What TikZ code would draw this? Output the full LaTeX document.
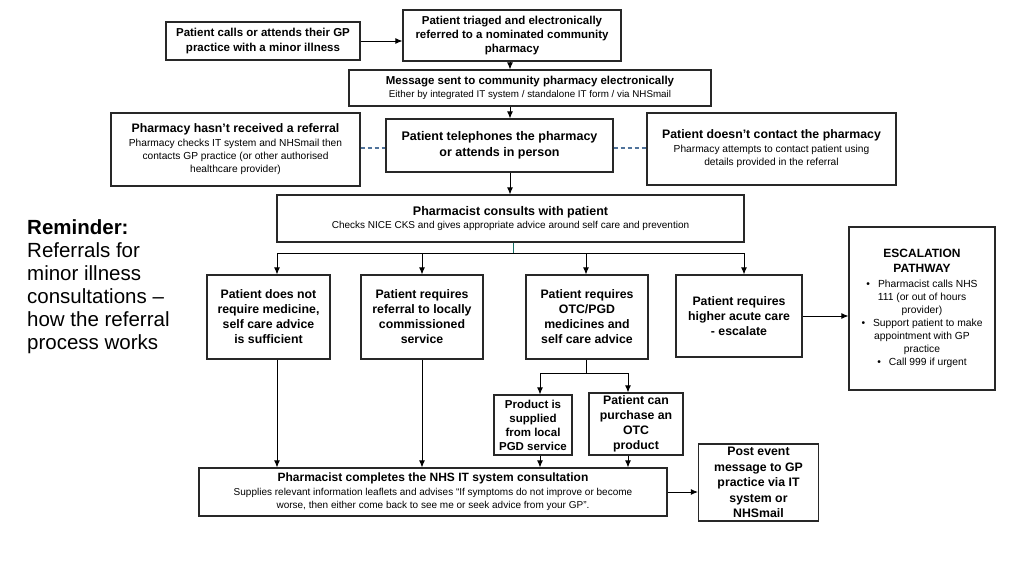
\documentclass[tikz,border=0pt]{standalone}
\usepackage{fontspec}
\setmainfont{Liberation Sans}
\usetikzlibrary{arrows.meta}
\definecolor{dashblue}{RGB}{80,115,155}
\definecolor{tealc}{RGB}{20,110,100}
\definecolor{boxline}{RGB}{40,40,40}
\newcommand{\fsz}[2]{\fontsize{#1}{#2}\selectfont}
\begin{document}
\begin{tikzpicture}[x=1pt,y=-1pt,
  box/.style={draw=boxline,line width=1.2pt,fill=white,align=center,inner sep=1pt},
  arr/.style={-{Latex[length=7pt,width=6pt]},line width=0.9pt},
  ln/.style={line width=0.9pt},
  dsh/.style={draw=dashblue,line width=1.5pt,dash pattern=on 4pt off 3pt}]
\useasboundingbox (0,0) rectangle (1024,576);

% reminder text
\node[align=left,anchor=north west,inner sep=0pt,font=\fsz{20.5}{23}] (rem) at (27,219)
  {\textbf{Reminder:}\\Referrals for\\minor illness\\consultations –\\how the referral\\process works};

\node[box,minimum width=194pt,minimum height=38pt,font=\fsz{11.5}{14.5}\bfseries] (a) at (263,41)
  {Patient calls or attends their GP\\practice with a minor illness};
\node[box,minimum width=218pt,minimum height=51pt,font=\fsz{11.5}{14}\bfseries] (b) at (512,35.5)
  {Patient triaged and electronically\\referred to a nominated community\\pharmacy};
\node[box,minimum width=362pt,minimum height=36pt,font=\fsz{9.8}{13}] (c) at (530,88)
  {{\fsz{11.5}{14}\bfseries Message sent to community pharmacy electronically}\\Either by integrated IT system / standalone IT form / via NHSmail};
\node[box,minimum width=249pt,minimum height=73pt,font=\fsz{10.2}{13}] (d) at (235.5,149.5)
  {{\fsz{12.3}{14}\bfseries Pharmacy hasn’t received a referral}\\[1pt]Pharmacy checks IT system and NHSmail then\\contacts GP practice (or other authorised\\healthcare provider)};
\node[box,minimum width=227pt,minimum height=53pt,font=\fsz{12.5}{16}\bfseries] (e) at (499.5,145.5)
  {Patient telephones the pharmacy\\or attends in person};
\node[box,minimum width=249pt,minimum height=72pt,font=\fsz{10.2}{13}] (f) at (771.5,149)
  {{\fsz{12.3}{14}\bfseries Patient doesn’t contact the pharmacy}\\[1pt]Pharmacy attempts to contact patient using\\details provided in the referral};
\node[box,minimum width=467pt,minimum height=47pt,font=\fsz{10}{13}] (g) at (510.5,218.5)
  {{\fsz{12.5}{14}\bfseries Pharmacist consults with patient}\\Checks NICE CKS and gives appropriate advice around self care and prevention};

\node[box,minimum width=123pt,minimum height=84pt,font=\fsz{12.3}{15}\bfseries] (h1) at (268.5,317)
  {Patient does not\\require medicine,\\self care advice\\is sufficient};
\node[box,minimum width=122pt,minimum height=84pt,font=\fsz{12.3}{15}\bfseries] (h2) at (422,317)
  {Patient requires\\referral to locally\\commissioned\\service};
\node[box,minimum width=122pt,minimum height=84pt,font=\fsz{12.3}{15}\bfseries] (h3) at (587,317)
  {Patient requires\\OTC/PGD\\medicines and\\self care advice};
\node[box,minimum width=126pt,minimum height=82pt,font=\fsz{12.3}{15}\bfseries] (h4) at (739,316)
  {Patient requires\\higher acute care\\- escalate};
\node[box,minimum width=146pt,minimum height=163pt,font=\fsz{10.3}{13}] (esc) at (922,308.5)
  {{\fsz{12}{14}\bfseries ESCALATION}\\[1.5pt]{\fsz{12}{14}\bfseries PATHWAY}\\[2pt]
   \textbullet\hspace{8pt}Pharmacist calls NHS\\111 (or out of hours\\provider)\\
   \textbullet\hspace{8pt}Support patient to make\\appointment with GP\\practice\\
   \textbullet\hspace{8pt}Call 999 if urgent};

\node[box,minimum width=78pt,minimum height=60pt,font=\fsz{11.5}{14}\bfseries] (i1) at (533,425)
  {Product is\\supplied\\from local\\PGD service};
\node[box,minimum width=94pt,minimum height=62pt,font=\fsz{12.3}{15}\bfseries] (i2) at (636,424)
  {Patient can\\purchase an\\OTC\\product};
\node[box,minimum width=468pt,minimum height=48pt,font=\fsz{10}{13}] (j) at (433,492)
  {{\fsz{12}{14}\bfseries Pharmacist completes the NHS IT system consultation}\\[1pt]Supplies relevant information leaflets and advises “If symptoms do not improve or become\\worse, then either come back to see me or seek advice from your GP”.};
\node[box,minimum width=120pt,minimum height=77pt,font=\fsz{12.3}{15.5}\bfseries] (k) at (758.5,482.5)
  {Post event\\message to GP\\practice via IT\\system or\\NHSmail};

% helper coordinates
\coordinate (xm) at (510,0);
\coordinate (xg) at (513,0);
\coordinate (x1) at (277,0);
\coordinate (x2) at (422,0);
\coordinate (x3) at (586,0);
\coordinate (x4) at (744,0);
\coordinate (xi1) at (540,0);
\coordinate (xi2) at (628,0);
\coordinate (yh) at (0,253);
\coordinate (yi) at (0,373);
\coordinate (yd) at (0,148);

% connectors
\draw[arr] (a.east) -- (a.east -| b.west);
\draw[arr] (b.south -| xm) -- (c.north -| xm);
\draw[arr] (c.south -| xm) -- (e.north -| xm);
\draw[arr] (e.south -| xm) -- (g.north -| xm);
\draw[dsh] (yd -| d.east) -- (yd -| e.west);
\draw[dsh] (yd -| e.east) -- (yd -| f.west);
\draw[ln,draw=tealc] (g.south -| xg) -- (yh -| xg);
\draw[ln] (yh -| x1) -- (yh -| x4);
\draw[arr] (yh -| x1) -- (h1.north -| x1);
\draw[arr] (yh -| x2) -- (h2.north -| x2);
\draw[arr] (yh -| x3) -- (h3.north -| x3);
\draw[arr] (yh -| x4) -- (h4.north -| x4);
\draw[arr] (h4.east) -- (h4.east -| esc.west);
\draw[ln] (h3.south -| x3) -- (yi -| x3);
\draw[ln] (yi -| xi1) -- (yi -| xi2);
\draw[arr] (yi -| xi1) -- (i1.north -| xi1);
\draw[arr] (yi -| xi2) -- (i2.north -| xi2);
\draw[arr] (h1.south -| x1) -- (j.north -| x1);
\draw[arr] (h2.south -| x2) -- (j.north -| x2);
\draw[arr] (i1.south -| xi1) -- (j.north -| xi1);
\draw[arr] (i2.south -| xi2) -- (j.north -| xi2);
\draw[arr] (j.east) -- (j.east -| k.west);
\end{tikzpicture}
\end{document}
